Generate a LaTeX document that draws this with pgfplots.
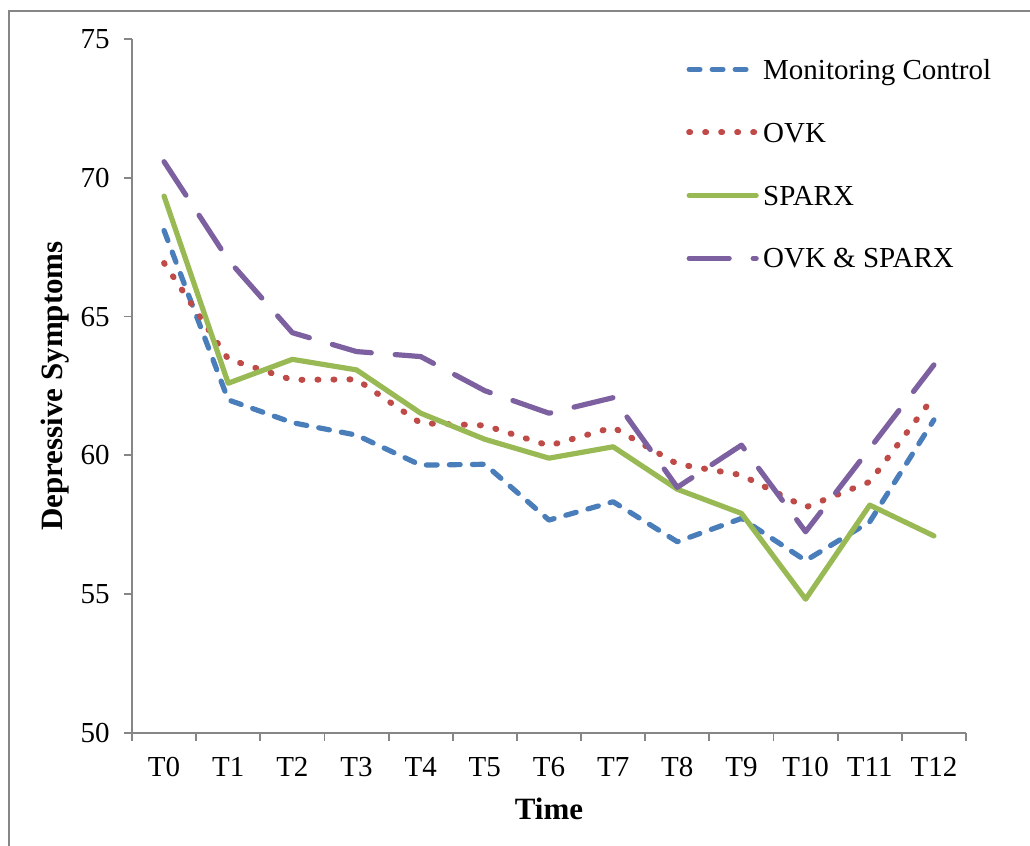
\documentclass[border=0pt]{standalone}
\usepackage{fontspec}
\setmainfont{Liberation Serif}
\usepackage{pgfplots}
\usepackage{pgfplotstable}
\pgfplotsset{compat=1.18}
\definecolor{cblue}{HTML}{4A7EBB}
\definecolor{cred}{HTML}{BE4B48}
\definecolor{cgreen}{HTML}{98B954}
\definecolor{cpurple}{HTML}{7D60A0}
\definecolor{axgray}{HTML}{868686}
\pgfplotstableread{
t mc ovk sparx both
0 68.10 66.93 69.34 70.58
1 62.00 63.47 62.60 67.04
2 61.18 62.72 63.46 64.42
3 60.73 62.74 63.08 63.74
4 59.65 61.16 61.52 63.56
5 59.68 61.08 60.58 62.33
6 57.67 60.35 59.90 61.52
7 58.33 61.01 60.31 62.08
8 56.89 59.69 58.78 58.85
9 57.73 59.29 57.91 60.37
10 56.21 58.13 54.82 57.25
11 57.61 59.05 58.21 60.25
12 61.28 62.12 57.10 63.26
}\datatable
\begin{document}
\begin{tikzpicture}
\path[use as bounding box] (-66pt,-56.5pt) rectangle (449pt,366.5pt);
\draw[color=axgray, line width=1.1pt] (-61.5pt,-60pt) -- (-61.5pt,361pt) -- (452pt,361pt);
\begin{axis}[
  at={(0,0)}, anchor=south west,
  scale only axis,
  width=417pt, height=347pt,
  xmin=-0.5, xmax=12.5,
  ymin=50, ymax=75,
  axis x line=bottom, axis y line=left,
  axis line style={-, color=axgray, line width=0.9pt},
  tick align=outside,
  ytick={50,55,...,75},
  xtick={0,...,12},
  xticklabels={T0,T1,T2,T3,T4,T5,T6,T7,T8,T9,T10,T11,T12},
  minor xtick={-0.5,0.5,...,12.5},
  major x tick style={draw=none},
  minor x tick style={color=axgray, line width=0.9pt},
  major y tick style={color=axgray, line width=0.9pt},
  major tick length=4pt, minor tick length=4pt,
  /pgf/number format/assume math mode=true,
  ticklabel style={font=\fontsize{14.5}{17}\selectfont},
  xticklabel style={anchor=center, inner sep=0pt, yshift=-13pt},
  yticklabel style={anchor=east, inner sep=0pt, xshift=-7pt},
  xlabel={Time},
  ylabel={Depressive Symptoms},
  xlabel style={at={(axis description cs:0.5,-0.1095)}, anchor=center, font=\fontsize{15.5}{18}\selectfont\bfseries},
  ylabel style={at={(axis description cs:-0.0925,0.5)}, anchor=center, font=\fontsize{15.5}{18}\selectfont\bfseries},
  legend image code/.code={\draw[#1] (0pt,4.8pt) -- (33.5pt,4.8pt);},
  legend style={at={(axis description cs:0.664,1)}, anchor=north west, yshift=-9.8pt,
    draw=none, fill=none, inner sep=0pt, row sep=18pt, column sep=2pt,
    font=\fontsize{14.5}{17}\selectfont,
    nodes={inner sep=0pt, text height=10pt, text depth=3.5pt, anchor=base west}},
  legend cell align=left,
  every axis plot/.append style={line width=2.6pt, line cap=round, line join=round},
]
\addplot[color=cblue, dash pattern=on 5.4pt off 6.1pt] table[x=t, y=mc] {\datatable};
\addlegendentry{Monitoring Control}
\addplot[color=cred, line width=3pt, dash pattern=on 0.5pt off 7.5pt] table[x=t, y=ovk] {\datatable};
\addlegendentry{OVK}
\addplot[color=cgreen] table[x=t, y=sparx] {\datatable};
\addlegendentry{SPARX}
\addplot[color=cpurple, dash pattern=on 20pt off 12pt] table[x=t, y=both] {\datatable};
\addlegendentry{OVK \& SPARX}
\end{axis}
\end{tikzpicture}
\end{document}
